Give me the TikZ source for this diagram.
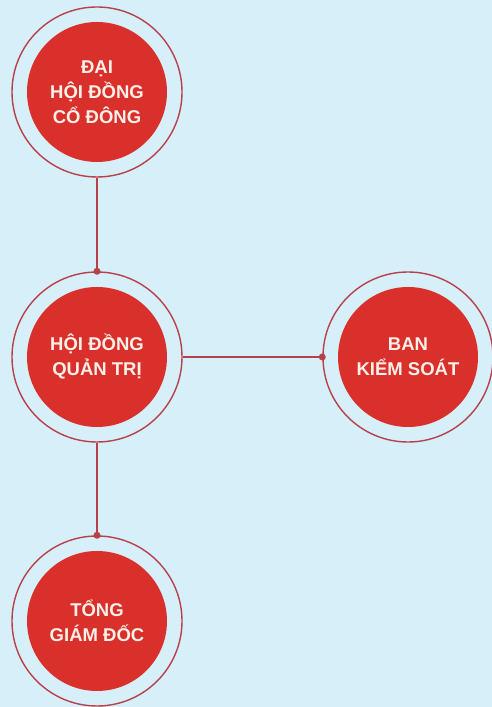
\documentclass[tikz,border=0pt]{standalone}
\usepackage{fontspec}
\setmainfont{Liberation Sans}
\usepackage{xcolor}
\usetikzlibrary{calc,positioning}
\definecolor{color_bg}{HTML}{D7EFF9}
\definecolor{color_fill_node}{HTML}{DA302C}
\definecolor{color_ring}{HTML}{B8404A}
\definecolor{color_text}{HTML}{FCF0E8}

\tikzset{
	ring/.style={circle,draw=color_ring,line width=1.4pt,minimum size=170pt,inner sep=0},
	disc/.style={circle,fill=color_fill_node,minimum size=140pt,inner sep=0,
		text=color_text,align=center,font=\fontsize{18.5}{25}\selectfont\bfseries},
	link/.style={color_ring,line width=1.4pt},
	joint/.style={circle,fill=color_ring,minimum size=7pt,inner sep=0}
}

\begin{document}
\begin{tikzpicture}[x=1pt,y=1pt]
				\useasboundingbox (0, 0) rectangle (492, 707);
				\fill[color_bg] (0, 0) rectangle (492, 707);
				% Points
				\coordinate (DH) at (97, 615);
				\coordinate (HQ) at (97, 350);
				\coordinate (BK) at (408, 350);
				\coordinate (TG) at (97, 86);
				
				% Rings
				\node[ring] (DHring) at (DH) {};
				\node[ring] (HQring) at (HQ) {};
				\node[ring] (BKring) at (BK) {};
				\node[ring] (TGring) at (TG) {};
				
				% Discs
				\node[disc] (DHdisc) at (DH) {ĐẠI\\HỘI ĐỒNG\\CỔ ĐÔNG};
				\node[disc] (HQdisc) at (HQ) {HỘI ĐỒNG\\QUẢN TRỊ};
				\node[disc] (BKdisc) at (BK) {BAN\\KIỂM SOÁT};
				\node[disc] (TGdisc) at (TG) {TỔNG\\GIÁM ĐỐC};
				
				% Links
				\draw[link] (DHring.south) -- (HQring.north) node[joint] {};
				\draw[link] (HQring.east) -- (BKring.west) node[joint] {};
				\draw[link] (HQring.south) -- (TGring.north) node[joint] {};
			\end{tikzpicture}
\end{document}
